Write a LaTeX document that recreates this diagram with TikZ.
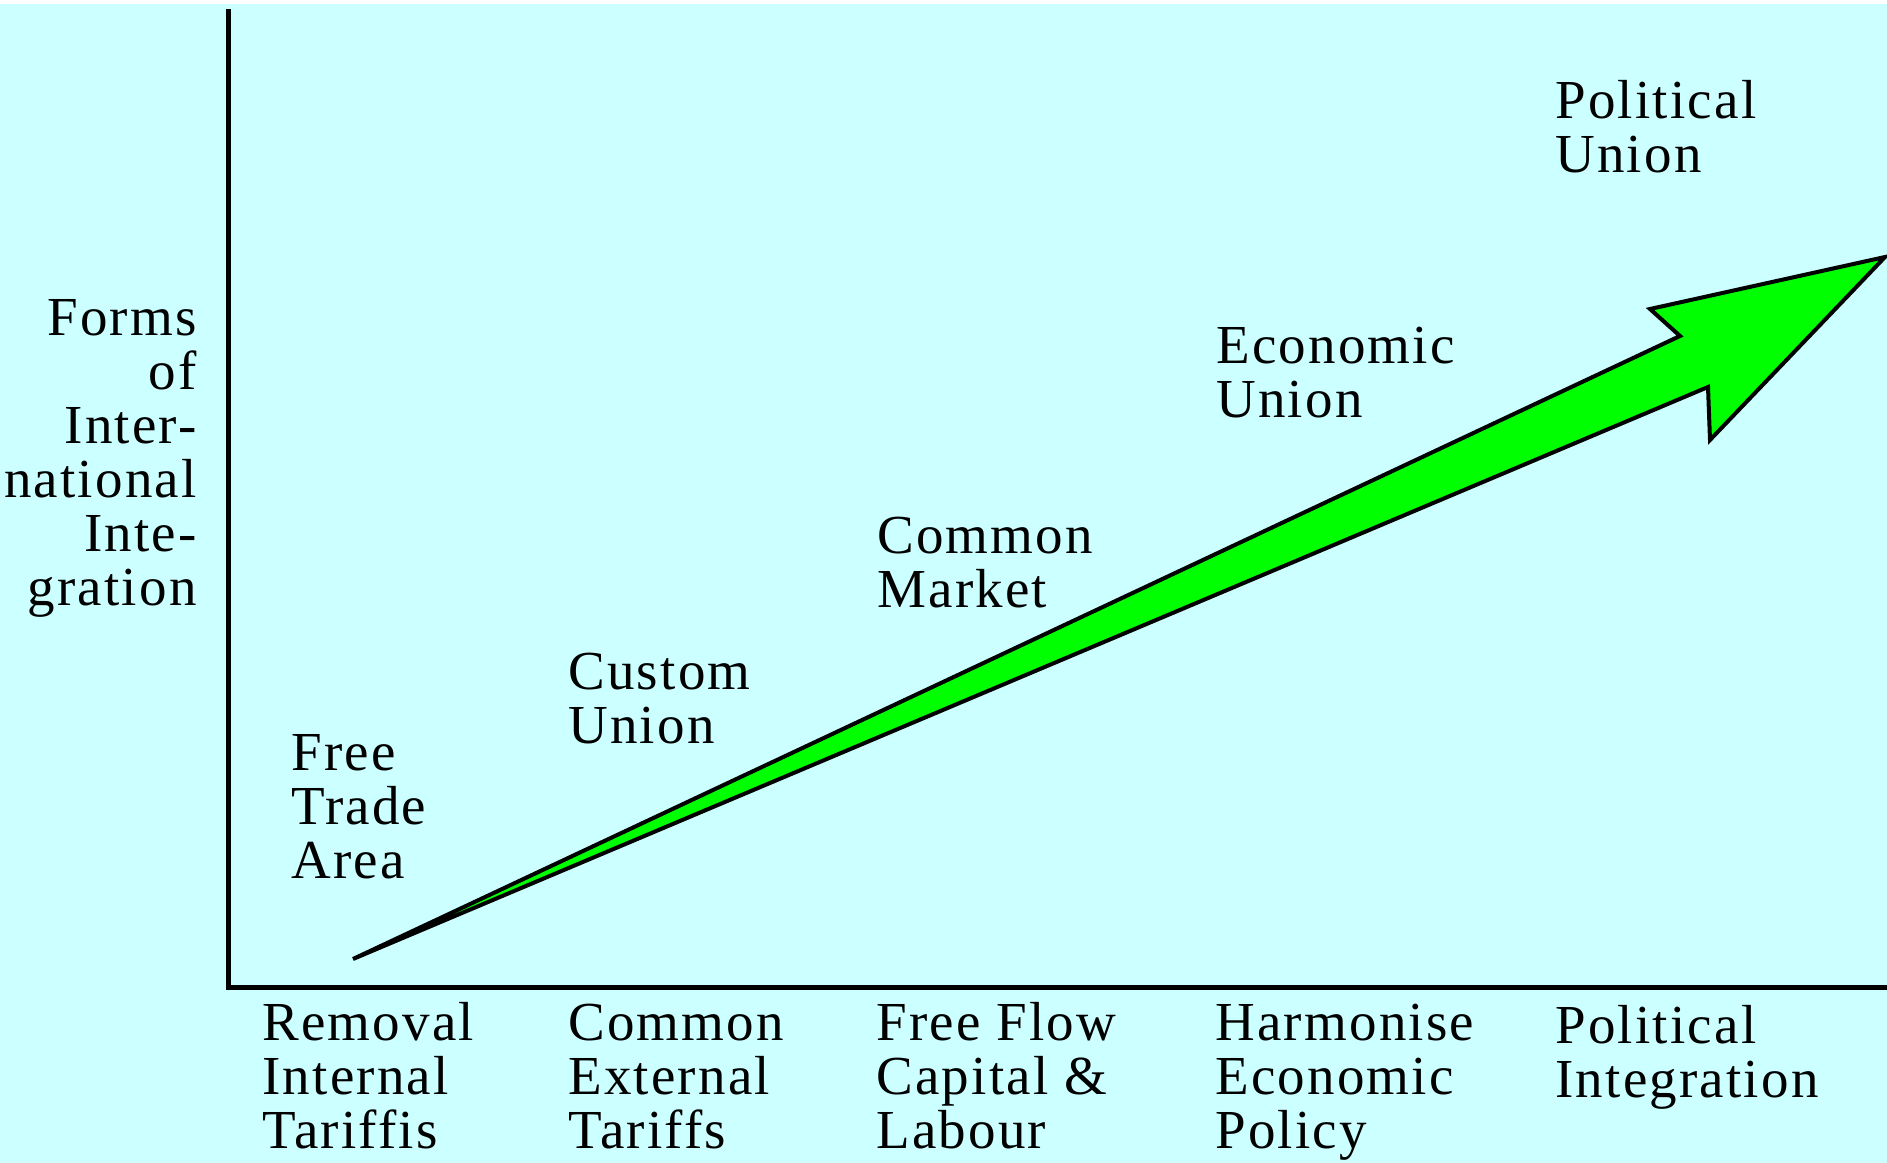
\documentclass[tikz,border=0pt]{standalone}
\usepackage{fontspec}
\setmainfont[LetterSpace=4]{Liberation Serif}
\usetikzlibrary{positioning}
\definecolor{bgcyan}{RGB}{204,255,255}
\definecolor{arrowgreen}{RGB}{0,255,0}

\begin{document}
\begin{tikzpicture}[
        x=0.02cm, y=-0.02cm,
        bigfont/.style={font=\fontsize{31.3}{30.7}\selectfont},
        stage/.style={bigfont, anchor=base west, align=left, inner sep=0pt},
        policy/.style={bigfont, anchor=base west, align=left, inner sep=0pt},
        axistitle/.style={bigfont, anchor=base east, align=right, inner sep=0pt},
        axis/.style={line width=0.1cm},
        bigarrow/.style={draw=black, fill=arrowgreen, line width=0.08cm}
    ]
        % Background
        \useasboundingbox (0,0) rectangle (1887,1163);
        \fill[bgcyan] (0,4) rectangle (1887,1163);

        % Axes
        \coordinate (ytop) at (228.5,9);
        \coordinate (origin) at (228.5,987);
        \coordinate (xend) at (1887,987);
        \draw[axis] (ytop) -- (origin) -- (xend);

        % Arrow
        \coordinate (tail) at (353,959);
        \coordinate (tip) at (1885,257);
        \draw[bigarrow] (tail) -- (1680,336) -- (1650,309) -- (tip)
            -- (1710,440) -- (1708,387) -- cycle;

        % Vertical axis title (placed at its last baseline)
        \node[axistitle] (ytitle) at (197,605) {Forms\\of\\Inter-\\national\\Inte-\\gration};

        % Stages
        \node[stage] (fta) at (291,878) {Free\\Trade\\Area};
        \node[stage] (cu) at (568,743) {Custom\\Union};
        \node[stage] (cm) at (877,607) {Common\\Market};
        \node[stage] (eu) at (1216,417) {Economic\\Union};
        \node[stage] (pu) at (1555,172) {Political\\Union};

        % Policies along the horizontal axis
        \node[policy] (p1) at (262,1148) {Removal\\Internal\\Tariffis};
        \node[policy] (p2) at (568,1148) {Common\\External\\Tariffs};
        \node[policy] (p3) at (876,1148) {Free Flow\\Capital \&\\Labour};
        \node[policy] (p4) at (1215,1148) {Harmonise\\Economic\\Policy};
        \node[policy] (p5) at (1555,1097) {Political\\Integration};

    \end{tikzpicture}
\end{document}
